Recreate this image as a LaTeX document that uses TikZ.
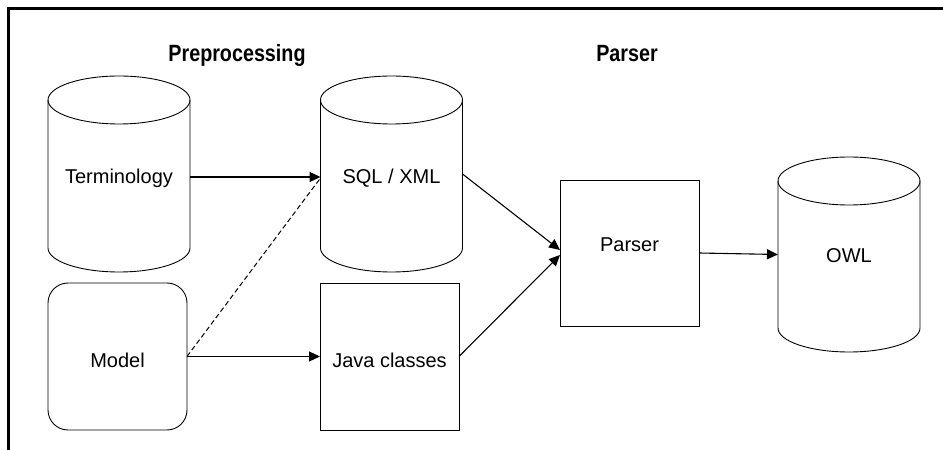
\documentclass[tikz,border=0pt]{standalone}
\usepackage{fontspec}
\setmainfont{Liberation Sans}
\newfontfamily\titlefont[FakeStretch=0.84]{Liberation Sans}
\usetikzlibrary{arrows.meta}
\tikzset{
  outl/.style={draw=black, line width=0.9pt},
  cylnode/.style={draw=none, minimum width=142pt, minimum height=196pt, inner sep=0pt, outer sep=0pt, font=\fontsize{20}{22}\selectfont},
  boxnode/.style={outl, minimum width=139pt, minimum height=147pt, inner sep=0pt, outer sep=0pt, font=\fontsize{20}{22}\selectfont},
  lift/.style 2 args={text height=#1pt, text depth=#2pt},
  ttl/.style={font=\titlefont\bfseries\fontsize{23.5}{26}\selectfont, anchor=base, inner sep=0pt},
  conn/.style={line width=1.1pt, -{Triangle[length=11pt,width=10pt]}},
  frameline/.style={line width=2.2pt, black}
}
\newcommand\drawcylinder[1]{%
  \draw[outl] ([yshift=-24pt]#1.north west) -- ([yshift=24pt]#1.south west)
    arc[start angle=180, end angle=360, x radius=71pt, y radius=24pt]
    -- ([yshift=-24pt]#1.north east)
    arc[start angle=0, end angle=180, x radius=71pt, y radius=24pt] -- cycle;
  \draw[outl] ([yshift=-24pt]#1.north west)
    arc[start angle=180, end angle=360, x radius=71pt, y radius=24pt];
}
\begin{document}
\begin{tikzpicture}[x=1pt, y=1pt]
\useasboundingbox (0,0) rectangle (943,450);
% frame
\draw[frameline] (8.5,0) -- (8.5,441.5) -- (943,441.5);
% titles
\node[ttl] (t1) at (237,388) {Preprocessing};
\node[ttl] (t2) at (627,388) {Parser};
% cylinders
\node[cylnode, lift={20}{0}] (term) at (119,276) {Terminology};
\node[cylnode, lift={20}{0}] (sql) at (391.5,276) {SQL / XML};
\node[cylnode, lift={17}{0}, minimum height=195pt] (owl) at (849,195.5) {OWL};
\drawcylinder{term}
\drawcylinder{sql}
\drawcylinder{owl}
% boxes
\node[boxnode, rounded corners=20pt, lift={23}{0}] (model) at (117.5,93.5) {Model};
\node[boxnode, lift={23}{0}] (java) at (389.5,93.5) {Java classes};
\node[boxnode, minimum height=146pt, lift={0}{2}] (parser) at (629.5,197) {Parser};
% connectors
\draw[conn] ([yshift=-3pt]term.east) -- ([yshift=-3pt]sql.west);
\draw[line width=1pt, dash pattern=on 5pt off 3pt] (model.east) -- ([yshift=-4pt]sql.west);
\draw[conn] (model.east) -- (java.west);
\draw[conn] (sql.east) -- ([yshift=3pt]parser.west);
\draw[conn] (java.east) -- ([yshift=-2pt]parser.west);
\draw[conn] (parser.east) -- (owl.west);
\end{tikzpicture}
\end{document}
